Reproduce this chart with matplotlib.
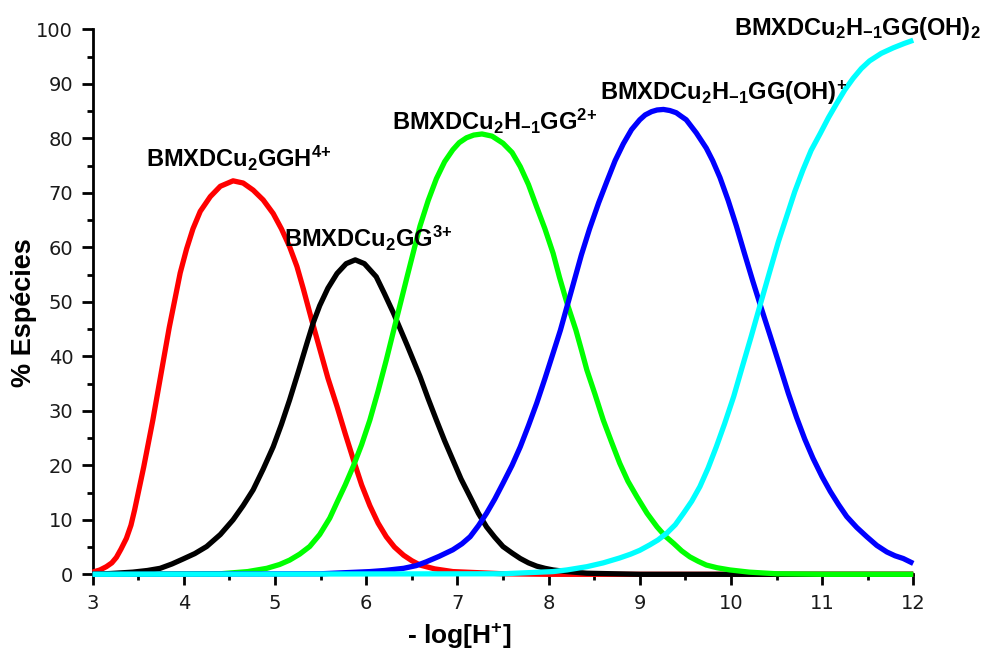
import numpy as np
import matplotlib
matplotlib.use("Agg")
import matplotlib.pyplot as plt
from matplotlib.ticker import MultipleLocator

# -------------------- Data --------------------
x_red = [3.0, 3.08, 3.15, 3.21, 3.26, 3.31, 3.37, 3.42, 3.46, 3.56, 3.66, 3.77, 3.84,
         3.96, 4.03, 4.10, 4.18, 4.29, 4.40, 4.54, 4.65, 4.76, 4.87, 4.98, 5.07, 5.16,
         5.24, 5.31, 5.40, 5.49, 5.58, 5.68, 5.77, 5.86, 5.95, 6.04, 6.13, 6.22, 6.31,
         6.41, 6.50, 6.59, 6.75, 6.95, 7.5, 8.0, 9.0, 10.0, 11.0, 12.0]
y_red = [0.4, 0.8, 1.4, 2.1, 3.1, 4.6, 6.6, 9.0, 11.8, 19.7, 28.3, 38.7, 45.3,
         55.3, 59.7, 63.4, 66.6, 69.3, 71.2, 72.2, 71.8, 70.5, 68.7, 66.2, 63.4, 60.1,
         56.5, 52.4, 46.8, 41.4, 36.0, 30.8, 25.8, 21.0, 16.4, 12.6, 9.4, 6.9, 5.0,
         3.5, 2.5, 1.7, 1.0, 0.5, 0.1, 0.0, 0.0, 0.0, 0.0, 0.0]

x_black = [3.0, 3.2, 3.44, 3.6, 3.74, 3.87, 3.99, 4.12, 4.25, 4.40, 4.54, 4.65, 4.76,
           4.87, 4.98, 5.07, 5.16, 5.26, 5.35, 5.42, 5.49, 5.58, 5.68, 5.78, 5.88, 5.98,
           6.11, 6.20, 6.30, 6.45, 6.59, 6.68, 6.77, 6.86, 6.95, 7.04, 7.14, 7.23, 7.32,
           7.41, 7.50, 7.60, 7.69, 7.78, 7.87, 7.96, 8.05, 8.2, 8.42, 9.0, 12.0]
y_black = [0.0, 0.15, 0.4, 0.7, 1.1, 1.9, 2.8, 3.8, 5.1, 7.3, 10.0, 12.6, 15.5,
           19.3, 23.4, 27.5, 32.0, 37.4, 42.4, 46.2, 49.3, 52.5, 55.2, 57.0, 57.7, 57.0,
           54.6, 51.5, 47.9, 42.0, 36.3, 32.2, 28.3, 24.5, 21.0, 17.5, 14.2, 11.2, 8.7,
           6.8, 5.1, 3.9, 2.9, 2.1, 1.5, 1.1, 0.8, 0.5, 0.2, 0.0, 0.0]

x_green = [3.0, 4.40, 4.70, 4.91, 5.05, 5.16, 5.27, 5.38, 5.49, 5.60, 5.68, 5.77, 5.86,
           5.95, 6.04, 6.13, 6.22, 6.33, 6.45, 6.59, 6.68, 6.77, 6.86, 6.95, 7.02, 7.10,
           7.18, 7.27, 7.38, 7.50, 7.60, 7.69, 7.78, 7.87, 7.96, 8.05, 8.12, 8.20, 8.30,
           8.36, 8.42, 8.51, 8.60, 8.69, 8.78, 8.87, 8.97, 9.08, 9.19, 9.28, 9.37, 9.46,
           9.55, 9.64, 9.73, 9.85, 9.99, 10.2, 10.5, 11.0, 12.0]
y_green = [0.0, 0.1, 0.5, 1.1, 1.8, 2.6, 3.7, 5.1, 7.3, 10.3, 13.2, 16.4, 19.9,
           23.8, 28.3, 33.6, 39.3, 46.7, 54.7, 63.9, 68.6, 72.6, 75.7, 77.9, 79.2, 80.1,
           80.6, 80.8, 80.4, 79.1, 77.4, 74.8, 71.5, 67.4, 63.4, 58.9, 54.5, 49.9, 44.8,
           41.2, 37.5, 33.0, 28.3, 24.3, 20.4, 17.1, 14.2, 11.2, 8.7, 7.0, 5.7, 4.3,
           3.2, 2.4, 1.7, 1.2, 0.8, 0.4, 0.1, 0.0, 0.0]

x_blue = [3.0, 5.50, 6.04, 6.2, 6.41, 6.55, 6.66, 6.80, 6.95, 7.05, 7.14, 7.23, 7.32,
          7.41, 7.50, 7.60, 7.69, 7.78, 7.87, 7.96, 8.05, 8.13, 8.20, 8.27, 8.36, 8.45,
          8.55, 8.64, 8.73, 8.82, 8.91, 9.00, 9.06, 9.13, 9.19, 9.26, 9.33, 9.40, 9.45,
          9.51, 9.62, 9.73, 9.80, 9.88, 9.97, 10.06, 10.15, 10.24, 10.33, 10.43, 10.54,
          10.63, 10.72, 10.81, 10.90, 11.0, 11.09, 11.18, 11.27, 11.38, 11.49, 11.60,
          11.71, 11.80, 11.89, 12.0]
y_blue = [0.0, 0.1, 0.5, 0.7, 1.1, 1.6, 2.3, 3.3, 4.5, 5.6, 6.9, 8.9, 11.2,
          13.8, 16.7, 20.0, 23.4, 27.3, 31.4, 35.9, 40.6, 44.8, 49.0, 53.2, 58.6, 63.4,
          68.2, 72.1, 75.9, 79.0, 81.6, 83.4, 84.3, 84.9, 85.2, 85.3, 85.1, 84.7, 84.1,
          83.4, 81.0, 78.2, 75.9, 72.8, 68.6, 63.9, 58.8, 53.8, 49.0, 43.8, 38.0,
          33.2, 28.8, 24.8, 21.3, 17.9, 15.2, 12.8, 10.6, 8.6, 6.9, 5.3,
          4.1, 3.4, 2.9, 2.0]

x_cyan = [3.0, 7.50, 8.05, 8.2, 8.42, 8.6, 8.78, 8.90, 9.00, 9.11, 9.2, 9.30, 9.39, 9.48,
          9.57, 9.66, 9.75, 9.84, 9.93, 10.03, 10.12, 10.22, 10.32, 10.43, 10.52, 10.61,
          10.70, 10.79, 10.88, 10.98, 11.07, 11.16, 11.25, 11.34, 11.43, 11.52, 11.65,
          11.78, 11.90, 12.0]
y_cyan = [0.0, 0.1, 0.5, 0.8, 1.4, 2.1, 3.0, 3.7, 4.4, 5.4, 6.3, 7.6, 9.1, 11.2,
          13.4, 16.1, 19.5, 23.4, 27.6, 32.6, 37.8, 43.5, 49.4, 55.8, 61.0, 65.6,
          70.2, 74.2, 77.8, 80.9, 83.8, 86.4, 88.9, 91.0, 92.8, 94.2, 95.6,
          96.6, 97.4, 98.0]

species_labels = [
    "BMXDCu$_2$GGH$^{4{+}}$",
    "BMXDCu$_2$GG$^{3{+}}$",
    "BMXDCu$_2$H$_{-1}$GG$^{2{+}}$",
    "BMXDCu$_2$H$_{-1}$GG(OH)$^{+}$",
    "BMXDCu$_2$H$_{-1}$GG(OH)$_2$",
]
label_x = [3.59, 5.10, 6.28, 8.56, 10.03]
label_y = [74.7, 60.1, 81.5, 87.0, 98.9]

# -------------------- Style --------------------
plt.rcParams["font.family"] = ["DejaVu Sans"]
plt.rcParams["mathtext.fontset"] = "custom"
plt.rcParams["mathtext.rm"] = "Liberation Sans:bold"
plt.rcParams["mathtext.bf"] = "Liberation Sans:bold"
plt.rcParams["mathtext.default"] = "regular"

fig = plt.figure(figsize=(9.9, 6.53), dpi=100)
ax = fig.add_axes([0.0936, 0.1205, 0.8289, 0.8346])

curves = [
    (x_red, y_red, "#ff0000"),
    (x_black, y_black, "#000000"),
    (x_green, y_green, "#00ff00"),
    (x_blue, y_blue, "#0000ff"),
    (x_cyan, y_cyan, "#00ffff"),
]
for k, (xs, ys, c) in enumerate(curves):
    ax.plot(xs, ys, color=c, lw=3.8, clip_on=False, zorder=3 + k,
            solid_joinstyle="round", solid_capstyle="butt")

ax.set_xlim(3, 12)
ax.set_ylim(0, 100)
ax.xaxis.set_major_locator(MultipleLocator(1))
ax.xaxis.set_minor_locator(MultipleLocator(0.5))
ax.yaxis.set_major_locator(MultipleLocator(10))
ax.yaxis.set_minor_locator(MultipleLocator(5))

for s in ["top", "right"]:
    ax.spines[s].set_visible(False)
for s in ["left", "bottom"]:
    ax.spines[s].set_linewidth(2.0)

ax.tick_params(which="major", direction="out", length=8, width=2, labelsize=14,
               pad=6, colors="black", labelcolor="#1a1a1a")
ax.tick_params(which="minor", direction="out", length=4, width=2)

for txt, lx, ly in zip(species_labels, label_x, label_y):
    ax.text(lx, ly, txt, family="Liberation Sans", fontweight="bold", fontsize=17,
            ha="left", va="baseline", zorder=10, clip_on=False)

fig.text(0.024, 0.522, "% Espécies", rotation=90, ha="center", va="center",
         family="Liberation Sans", fontweight="bold", fontsize=19.5)
fig.text(0.4636, 0.026, "- log[H$^{+}$]", ha="center", va="center",
         family="Liberation Sans", fontweight="bold", fontsize=19)

fig.savefig("out.png", dpi=100)
